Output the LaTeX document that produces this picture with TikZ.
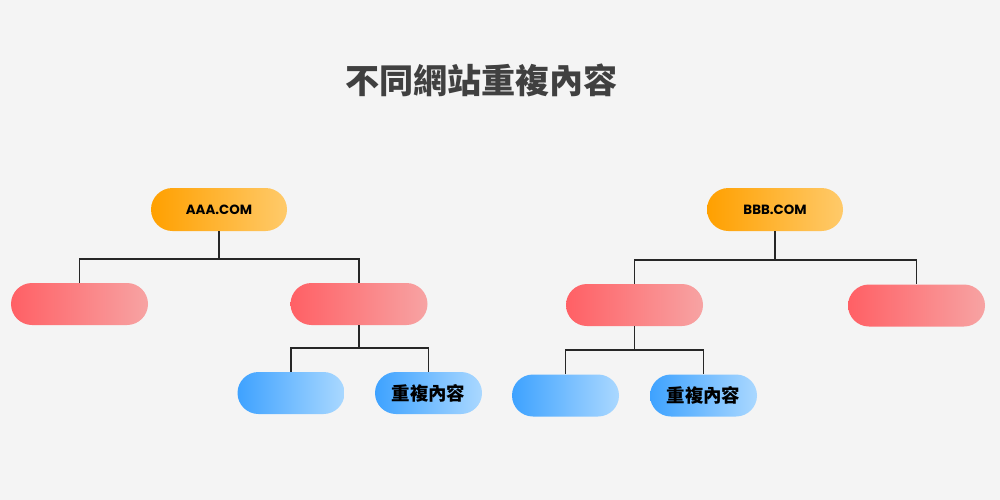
\documentclass[tikz,border=0pt]{standalone}
\usepackage{fontspec}
\usepackage{xcolor}
\usepackage{tikz}
\usetikzlibrary{positioning, calc}
\setmainfont{Poppins}
\newfontfamily\cjk{Noto Sans CJK TC}

\definecolor{bgcol}{HTML}{F4F4F4}
\definecolor{titlecol}{HTML}{404040}
\definecolor{siteL}{HTML}{FFA000}
\definecolor{siteR}{HTML}{FFCA6A}
\definecolor{pageL}{HTML}{FF6065}
\definecolor{pageR}{HTML}{F7A3A3}
\definecolor{dupL}{HTML}{3EA2FF}
\definecolor{dupR}{HTML}{AAD8FF}

\begin{document}
\begin{tikzpicture}[
    x=0.2mm, y=-0.2mm,
    title/.style={text=titlecol, font=\cjk\bfseries\fontsize{19.4}{22}\selectfont},
    site/.style={rectangle, rounded corners=4.3mm, inner sep=0pt, minimum width=27.2mm, minimum height=8.6mm, left color=siteL, right color=siteR, font=\bfseries\fontsize{7.6}{9}\selectfont},
    page/.style={rectangle, rounded corners=4.2mm, inner sep=0pt, minimum width=27.4mm, minimum height=8.4mm, left color=pageL, right color=pageR},
    dup/.style={rectangle, rounded corners=4.2mm, inner sep=0pt, minimum width=21.4mm, minimum height=8.4mm, left color=dupL, right color=dupR, font=\cjk\bfseries\fontsize{10.5}{12}\selectfont},
    link/.style={draw=black!85, line width=0.7pt}
]

% Background
\fill[bgcol] (0,0) rectangle (1000,500);
\useasboundingbox (0,0) rectangle (1000,500);

% Title
\node[title] (head) at (481.5,80) {不同網站重複內容};

% Sites
\node[site] (aaa) at (219,209.5) {AAA.COM};
\node[site] (bbb) at (775,209.5) {BBB.COM};

% Pages
\node[page] (a1) at (79.5,304) {};
\node[page] (a2) at (359,304) {};
\node[page] (b1) at (634.5,305) {};
\node[page] (b2) at (916.5,305.5) {};

% Duplicates
\node[dup] (a21) at (291,393) {};
\node[dup] (a22) at (428.5,393) {重複內容};
\node[dup] (b11) at (565.5,395.5) {};
\node[dup] (b12) at (703.5,395.5) {重複內容};

% Joints
\coordinate (ja) at (219,259);
\coordinate (jb) at (775,260);
\coordinate (ja2) at (359,348);
\coordinate (jb1) at (634.5,350);

% Tree lines
\draw[link] (aaa.south) -- (ja);
\draw[link] (a1.north) |- (ja) -| (a2.north);
\draw[link] (a2.south) -- (ja2);
\draw[link] (a21.north) |- (ja2) -| (a22.north);
\draw[link] (bbb.south) -- (jb);
\draw[link] (b1.north) |- (jb) -| (b2.north);
\draw[link] (b1.south) -- (jb1);
\draw[link] (b11.north) |- (jb1) -| (b12.north);

\end{tikzpicture}
\end{document}
